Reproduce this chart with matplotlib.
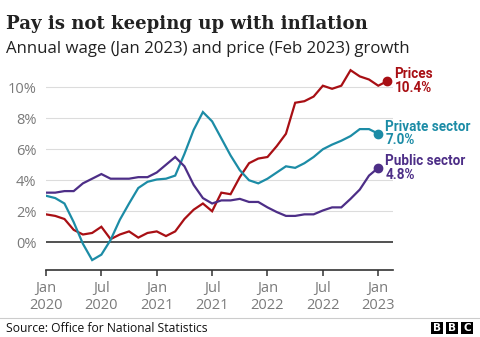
import matplotlib
matplotlib.use("Agg")
import matplotlib.pyplot as plt
from matplotlib.patches import Rectangle
from matplotlib.lines import Line2D
from matplotlib import font_manager
import numpy as np

# ---------------- data ----------------
prices = [1.8, 1.7, 1.5, 0.8, 0.5, 0.6, 1.0, 0.2, 0.5, 0.7, 0.3, 0.6,
          0.7, 0.4, 0.7, 1.5, 2.1, 2.5, 2.0, 3.2, 3.1, 4.2, 5.1, 5.4,
          5.5, 6.2, 7.0, 9.0, 9.1, 9.4, 10.1, 9.9, 10.1, 11.1, 10.7, 10.5,
          10.1, 10.4]
private_sector = [3.0, 2.85, 2.5, 1.3, -0.1, -1.15, -0.8, 0.15, 1.45, 2.5, 3.5, 3.9,
                  4.05, 4.1, 4.3, 5.7, 7.25, 8.4, 7.8, 6.7, 5.6, 4.65, 4.0, 3.8,
                  4.1, 4.5, 4.9, 4.8, 5.1, 5.5, 6.0, 6.3, 6.55, 6.85, 7.3, 7.3,
                  7.0]
public_sector = [3.2, 3.2, 3.3, 3.3, 3.8, 4.1, 4.4, 4.1, 4.1, 4.1, 4.2, 4.2,
                 4.5, 5.0, 5.5, 4.9, 3.7, 2.85, 2.5, 2.7, 2.7, 2.8, 2.6, 2.6,
                 2.25, 1.95, 1.7, 1.7, 1.8, 1.8, 2.05, 2.25, 2.25, 2.8, 3.4, 4.3,
                 4.8]
series_names = ["Prices", "Private sector", "Public sector"]
end_labels = ["10.4%", "7.0%", "4.8%"]
x_tick_labels = ["Jan\n2020", "Jul\n2020", "Jan\n2021", "Jul\n2021",
                 "Jan\n2022", "Jul\n2022", "Jan\n2023"]
y_ticks = [0, 2, 4, 6, 8, 10]
y_tick_labels = ["0%", "2%", "4%", "6%", "8%", "10%"]
title = "Pay is not keeping up with inflation"
subtitle = "Annual wage (Jan 2023) and price (Feb 2023) growth"
source = "Source: Office for National Statistics"

# ---------------- style ----------------
W, H = 480, 337
DPI = 100
RED = "#a80f14"
TEAL = "#1c8ca6"
PURPLE = "#4d2e87"
GREY = "#7a7a7a"
DARK = "#333333"
SANS = ["Open Sans", "DejaVu Sans"]
LABEL_FONT = ["Roboto", "DejaVu Sans"]

installed = {f.name for f in font_manager.fontManager.ttflist}
SERIF = ["DejaVu Serif Condensed"] if "DejaVu Serif Condensed" in installed else ["DejaVu Serif"]

fig = plt.figure(figsize=(W / DPI, H / DPI), dpi=DPI)
fig.patch.set_facecolor("white")
renderer = fig.canvas.get_renderer()


def px(x, y):
    return x / W, 1 - y / H


def fit_width(t, target):
    for _ in range(3):
        w = t.get_window_extent(renderer=renderer).width
        t.set_fontsize(t.get_fontsize() * target / w)


left, right, bottom, top = 46, 393, 270, 64
ax = fig.add_axes([left / W, 1 - bottom / H, (right - left) / W, (bottom - top) / H])
ax.set_facecolor("none")

x_all = np.arange(len(prices))
x_wage = np.arange(len(private_sector))

ax.set_xlim(0, 37.6)
ax.set_ylim(-1.79, 11.5)

for yv in y_ticks:
    if yv != 0:
        ax.axhline(yv, color="#dcdcdc", lw=0.8, zorder=1)
ax.axhline(0, color=DARK, lw=1.2, zorder=2)

labels = []
series = [(x_all, prices, RED), (x_wage, private_sector, TEAL), (x_wage, public_sector, PURPLE)]
for (xs, ys, c), name, lab in zip(series, series_names, end_labels):
    ax.plot(xs, ys, color=c, lw=1.6, zorder=3, solid_joinstyle="miter")
    ax.plot([xs[-1]], [ys[-1]], "o", color=c, ms=6, zorder=4, clip_on=False)
    t = ax.annotate(name + "\n" + lab, xy=(xs[-1], ys[-1]), xytext=(5, 0),
                    textcoords="offset points", ha="left", va="center",
                    color=c, fontweight="bold", family=LABEL_FONT, fontsize=10,
                    linespacing=0.95, annotation_clip=False)
    labels.append(t)

# size the series labels so "Private sector" is ~85 px wide
probe = fig.text(0, 0, "Private sector", fontweight="bold", family=LABEL_FONT, fontsize=10)
fit_width(probe, 85)
label_fs = probe.get_fontsize()
probe.remove()
for t in labels:
    t.set_fontsize(label_fs)

for s in ["top", "right", "left"]:
    ax.spines[s].set_visible(False)
ax.spines["bottom"].set_color(DARK)
ax.spines["bottom"].set_linewidth(1.2)

ax.set_xticks(np.arange(0, 37, 6))
ax.set_xticklabels(x_tick_labels, color=GREY, family=SANS, fontsize=10.5, linespacing=1.15)
ax.tick_params(axis="x", length=4, width=1.1, color=DARK, pad=4)
ax.set_yticks(y_ticks)
ax.set_yticklabels(y_tick_labels, color=GREY, family=SANS, fontsize=10.5)
ax.tick_params(axis="y", length=0, pad=7)

# titles
tt = fig.text(*px(6, 29), title, family=SERIF, fontweight="bold", fontsize=13.6,
              color="#222222", ha="left", va="baseline")
fit_width(tt, 362)
st = fig.text(*px(6, 53), subtitle, family=SANS, fontsize=10.9,
              color="#222222", ha="left", va="baseline")
fit_width(st, 401)

# footer
fig.add_artist(Line2D([0, 1], [1 - 318 / H] * 2, color="#cccccc", lw=0.8))
so = fig.text(*px(6, 332), source, family=SANS, fontsize=8.6, color="#111111",
              ha="left", va="baseline")
fit_width(so, 200)
for i, letter in enumerate("BBC"):
    x0 = 431 + i * 15
    fig.add_artist(Rectangle((x0 / W, 1 - 334 / H), 12 / W, 12 / H,
                             transform=fig.transFigure, color="black", lw=0))
    fig.text((x0 + 6) / W, 1 - 328 / H, letter, color="white", fontsize=7.5,
             fontweight="bold", family=["DejaVu Sans"], ha="center", va="center")

fig.savefig("out.png", dpi=DPI, facecolor="white")
